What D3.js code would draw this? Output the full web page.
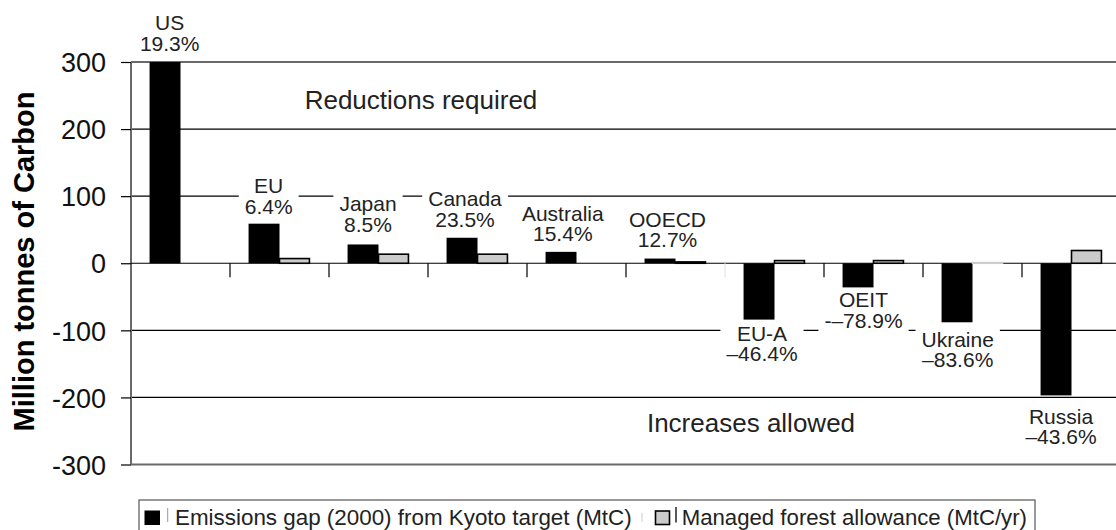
<!DOCTYPE html>
<html>
<head>
<meta charset="utf-8">
<script src="https://cdn.jsdelivr.net/npm/d3@7"></script>
<style>
  html, body { margin: 0; padding: 0; background: #fff; }
  svg { display: block; font-family: "Liberation Sans", Arial, Helvetica, sans-serif; }
</style>
</head>
<body>
<svg id="chart" width="1116" height="530"></svg>
<script>
// ---- data ----
const categories = ["US", "EU", "Japan", "Canada", "Australia", "OOECD", "EU-A", "OEIT", "Ukraine", "Russia"];
const percentLabels = ["19.3%", "6.4%", "8.5%", "23.5%", "15.4%", "12.7%", "\u201346.4%", "-\u201378.9%", "\u201383.6%", "\u201343.6%"];
const emissionsGap = [300, 59, 28, 38, 17, 7, -84, -36, -88, -197];
const forestAllowance = [0, 7, 13.5, 13.5, 0, 2, 4, 4, 1, 19];
const seriesNames = ["Emissions gap (2000) from Kyoto target (MtC)", "Managed forest allowance (MtC/yr)"];
const yTicks = [300, 200, 100, 0, -100, -200, -300];

// ---- layout (label anchors: x offset from band centre in px, first baseline in data units) ----
const labelDx = [-10.8, -10.8, -10.5, -12.5, -13.7, -8, -12.5, -10, -14.8, -10.5];
const labelY  = [348, 104, 78, 85.5, 63.5, 54.5, -115.6, -65.7, -124.5, -238.9];

(function () {
const svg = d3.select("#chart");
const pLeft = 131, pRight = 1121, pTop = 62, pBottom = 464.5;

const x = d3.scaleBand().domain(categories).range([pLeft, pRight]).paddingInner(0).paddingOuter(0);
const xs = d3.scaleBand().domain([0, 1]).range([0, x.bandwidth()]).paddingInner(0).paddingOuter(0.6);
const y = d3.scaleLinear().domain([-300, 300]).range([pBottom, pTop]);

// gridlines (inner)
svg.append("g").selectAll("line").data([200, 100, -100, -200]).join("line")
  .attr("x1", pLeft).attr("x2", pRight)
  .attr("y1", d => y(d)).attr("y2", d => y(d))
  .attr("stroke", "#000").attr("stroke-width", 1.2);

// plot border lines (top, bottom, left)
svg.append("g").selectAll("line").data([300, -300]).join("line")
  .attr("x1", pLeft).attr("x2", pRight)
  .attr("y1", d => y(d)).attr("y2", d => y(d))
  .attr("stroke", "#6a6a6a").attr("stroke-width", 2.2);
svg.append("line").attr("x1", pLeft).attr("x2", pLeft).attr("y1", y(300)).attr("y2", y(-300))
  .attr("stroke", "#6a6a6a").attr("stroke-width", 2);

// y axis
const yAxis = d3.axisLeft(y).tickValues(yTicks).tickSize(10).tickPadding(15).tickFormat(d => String(d));
const gy = svg.append("g").attr("transform", `translate(${pLeft},0)`).call(yAxis);
gy.select(".domain").remove();
gy.selectAll(".tick line").attr("stroke", "#000").attr("stroke-width", 1.2);
gy.selectAll(".tick text").attr("font-size", 27).attr("fill", "#111")
  .attr("font-family", "'Liberation Sans', Arial, sans-serif").attr("dy", "0.36em");

// y axis title
svg.append("text")
  .attr("transform", `translate(33.5,261.5) rotate(-90)`)
  .attr("text-anchor", "middle")
  .attr("font-size", 29).attr("font-weight", "bold").attr("fill", "#000")
  .text("Million tonnes of Carbon");

// zero axis with category boundary ticks
svg.append("line").attr("x1", pLeft).attr("x2", pRight).attr("y1", y(0)).attr("y2", y(0))
  .attr("stroke", "#000").attr("stroke-width", 1.2);
svg.append("g").selectAll("line").data(categories.slice(1)).join("line")
  .attr("x1", d => x(d)).attr("x2", d => x(d))
  .attr("y1", y(0)).attr("y2", y(0) + 14)
  .attr("stroke", (d, i) => i === 5 ? "#e4e4e4" : "#000").attr("stroke-width", 1.2);

// bars
svg.append("clipPath").attr("id", "plotclip").append("rect")
  .attr("x", pLeft).attr("y", y(300)).attr("width", pRight - pLeft).attr("height", y(-300) - y(300));

const barsG = svg.append("g").attr("clip-path", "url(#plotclip)");
barsG.selectAll("rect.gap").data(emissionsGap).join("rect").attr("class", "gap")
  .attr("x", (d, i) => x(categories[i]) + xs(0))
  .attr("width", xs.bandwidth())
  .attr("y", d => y(Math.max(0, d)))
  .attr("height", d => Math.abs(y(d) - y(0)))
  .attr("fill", "#000");
barsG.selectAll("rect.forest").data(forestAllowance).join("rect").attr("class", "forest")
  .attr("x", (d, i) => x(categories[i]) + xs(1))
  .attr("width", xs.bandwidth() - 1)
  .attr("y", d => y(Math.max(0, d)))
  .attr("height", d => Math.abs(y(d) - y(0)))
  .attr("fill", "#cbcbcb")
  .attr("stroke", (d, i) => i === 8 ? "#cccccc" : "#000")
  .attr("stroke-width", d => d > 0 ? 1.6 : 0);

// category labels with white backgrounds
const labG = svg.append("g");
categories.forEach((c, i) => {
  const cx = x(c) + x.bandwidth() / 2 + labelDx[i];
  const by = y(labelY[i]);
  const g = labG.append("g");
  const rect = g.append("rect").attr("fill", "#fff");
  const t = g.append("text").attr("text-anchor", "middle").attr("font-size", 21).attr("fill", "#222");
  t.append("tspan").attr("x", cx).attr("y", by).text(c);
  t.append("tspan").attr("x", cx).attr("y", by + 20.7).text(percentLabels[i]);
  const bb = t.node().getBBox();
  rect.attr("x", bb.x - 6).attr("y", bb.y + 1).attr("width", bb.width + 12).attr("height", bb.height - 2);
});

// region annotations
svg.append("text").attr("x", 421).attr("y", y(229.5)).attr("text-anchor", "middle")
  .attr("font-size", 26).attr("fill", "#222").text("Reductions required");
svg.append("text").attr("x", 751).attr("y", y(-251)).attr("text-anchor", "middle")
  .attr("font-size", 26).attr("fill", "#222").text("Increases allowed");

// legend
const lg = svg.append("g");
lg.append("rect").attr("x", 139).attr("y", 500).attr("width", 896).attr("height", 40)
  .attr("fill", "#fff").attr("stroke", "#555").attr("stroke-width", 1.2);
lg.append("rect").attr("x", 144.5).attr("y", 510.5).attr("width", 15.5).attr("height", 14.5).attr("fill", "#000");
lg.append("line").attr("x1", 167.7).attr("x2", 167.7).attr("y1", 508).attr("y2", 522).attr("stroke", "#999").attr("stroke-width", 1);
lg.append("text").attr("x", 175).attr("y", 525).attr("font-size", 22.4).attr("fill", "#222").text(seriesNames[0]);
lg.append("line").attr("x1", 642).attr("x2", 642).attr("y1", 513).attr("y2", 522).attr("stroke", "#ccc").attr("stroke-width", 1);
lg.append("rect").attr("x", 655.5).attr("y", 511).attr("width", 14).attr("height", 13.5)
  .attr("fill", "#cbcbcb").attr("stroke", "#000").attr("stroke-width", 1.6);
lg.append("line").attr("x1", 676).attr("x2", 676).attr("y1", 507).attr("y2", 522.5).attr("stroke", "#222").attr("stroke-width", 1.5);
lg.append("text").attr("x", 681.7).attr("y", 525).attr("font-size", 22.2).attr("fill", "#222").text(seriesNames[1]);
})();
</script>
</body>
</html>
